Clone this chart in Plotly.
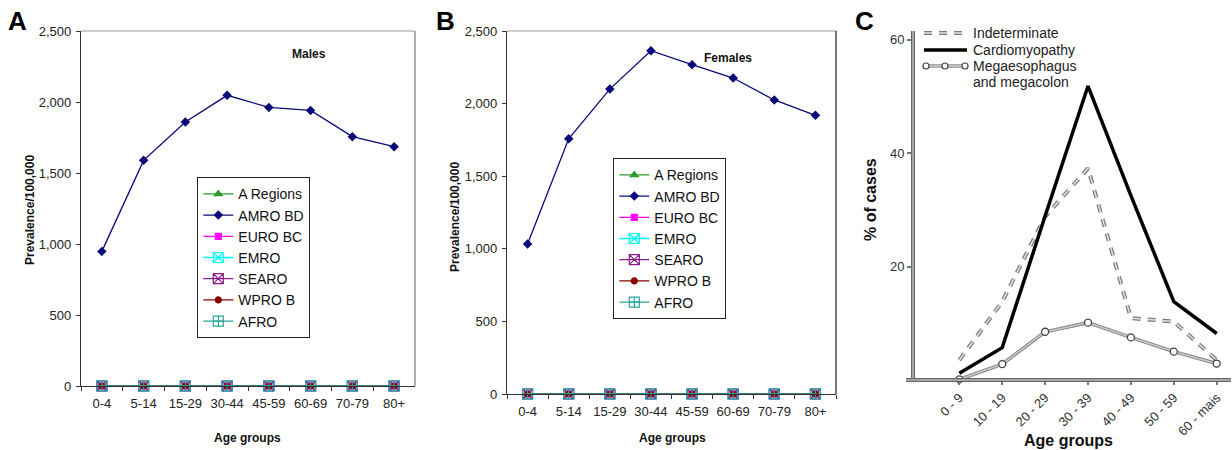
import plotly.graph_objects as go

# ---------------- data ----------------
age_ab = ["0-4", "5-14", "15-29", "30-44", "45-59", "60-69", "70-79", "80+"]
males_amro = [948, 1589, 1859, 2047, 1962, 1941, 1756, 1685]
females_amro = [1033, 1758, 2100, 2364, 2268, 2176, 2025, 1919]
zeros = [0, 0, 0, 0, 0, 0, 0, 0]
regions = ["A Regions", "AMRO BD", "EURO BC", "EMRO", "SEARO", "WPRO B", "AFRO"]

age_c = ["0 - 9", "10 - 19", "20 - 29", "30 - 39", "40 - 49", "50 - 59", "60 - mais"]
indeterminate = [3.5, 13.8, 28.8, 37.3, 10.9, 10.3, 3.5]
cardiomyopathy = [1.2, 5.7, 28.9, 51.8, 32.5, 13.8, 8.2]
megas = [0.1, 2.8, 8.5, 10.1, 7.5, 5.0, 2.9]
c_labels = ["Indeterminate", "Cardiomyopathy", "Megaesophagus", "and megacolon"]

W, H = 1232, 450

region_style = {
    "A Regions": dict(color="#2e9a2e", symbol="triangle-up", size=7),
    "AMRO BD": dict(color="#0a0a7a", symbol="diamond", size=6),
    "EURO BC": dict(color="#ff00ff", symbol="square", size=6),
    "EMRO": dict(color="#00ffff", symbol="square-x-open", size=10),
    "SEARO": dict(color="#8b1a8b", symbol="square-x-open", size=10),
    "WPRO B": dict(color="#8b0000", symbol="circle", size=6),
    "AFRO": dict(color="#2aa39a", symbol="square-cross-open", size=10),
}

fig = go.Figure()


def add_panel(amro_vals, xa, ya, legend):
    for r in regions:
        st = region_style[r]
        vals = amro_vals if r == "AMRO BD" else zeros
        fig.add_trace(go.Scatter(
            x=age_ab, y=vals, name=r, mode="lines+markers",
            line=dict(color=st["color"], width=1.3),
            marker=dict(symbol=st["symbol"], size=st["size"], color=st["color"],
                        line=dict(color=st["color"], width=1.2)),
            xaxis=xa, yaxis=ya, legend=legend, cliponaxis=False,
        ))


add_panel(males_amro, "x", "y", "legend")
add_panel(females_amro, "x2", "y2", "legend2")

# Panel C
fig.add_trace(go.Scatter(
    x=age_c, y=indeterminate, name="Indeterminate", mode="lines", showlegend=False,
    line=dict(color="#7a7a7a", width=4, dash="8px,7px"),
    xaxis="x3", yaxis="y3"))
fig.add_trace(go.Scatter(
    x=age_c, y=indeterminate, mode="lines", showlegend=False,
    line=dict(color="#e4e4e4", width=1.5, dash="8px,7px"),
    xaxis="x3", yaxis="y3", hoverinfo="skip"))
fig.add_trace(go.Scatter(
    x=age_c, y=cardiomyopathy, name="Cardiomyopathy", mode="lines", showlegend=False,
    line=dict(color="black", width=3.5),
    xaxis="x3", yaxis="y3"))
fig.add_trace(go.Scatter(
    x=age_c, y=megas, name="Megaesophagus and megacolon", mode="lines", showlegend=False,
    line=dict(color="#8c8c8c", width=3.5),
    xaxis="x3", yaxis="y3", cliponaxis=False))
fig.add_trace(go.Scatter(
    x=age_c, y=megas, mode="lines+markers", showlegend=False,
    line=dict(color="#d0d0d0", width=1.3),
    marker=dict(symbol="circle", size=7, color="white", line=dict(color="#444", width=1.3)),
    xaxis="x3", yaxis="y3", hoverinfo="skip", cliponaxis=False))


def px_x(p):
    return p / W


def px_y(p):
    return 1 - p / H


tickfont_ab = dict(family="Arial", size=13, color="#222")

ax_common_ab = dict(
    type="category", range=[-0.5, 7.5], showgrid=False, zeroline=False,
    showline=True, linecolor="#333", linewidth=1.2, ticks="outside", ticklen=4,
    tickcolor="#333", tickson="boundaries", tickfont=tickfont_ab, fixedrange=True,
    automargin=False, ticklabelstandoff=5, tickangle=0,
)
ay_common_ab = dict(
    range=[0, 2500], tickvals=[0, 500, 1000, 1500, 2000, 2500],
    ticktext=["0", "500", "1,000", "1,500", "2,000", "2,500"],
    showgrid=False, zeroline=False, showline=True, linecolor="#333", linewidth=1.2,
    ticks="outside", ticklen=4, tickcolor="#333", tickfont=tickfont_ab, fixedrange=True,
    automargin=False, ticklabelstandoff=2,
)

legend_common = dict(
    bgcolor="white", bordercolor="#222", borderwidth=1.3,
    font=dict(family="Arial", size=14, color="#111"),
    xanchor="left", yanchor="top", itemwidth=30, tracegroupgap=0,
)

fig.update_layout(
    width=W, height=H, margin=dict(l=0, r=0, t=0, b=0, autoexpand=False),
    paper_bgcolor="white", plot_bgcolor="white", showlegend=True,
    xaxis=dict(domain=[px_x(81), px_x(415)], anchor="y", **ax_common_ab),
    yaxis=dict(domain=[px_y(386), px_y(31)], anchor="x", **ay_common_ab),
    xaxis2=dict(domain=[px_x(507), px_x(836)], anchor="y2", **ax_common_ab),
    yaxis2=dict(domain=[px_y(394), px_y(31)], anchor="x2", **ay_common_ab),
    xaxis3=dict(domain=[px_x(913), px_x(1230)], anchor="y3", type="category",
                range=[-1.08, 6.31], showgrid=False, zeroline=False, showline=False,
                ticks="outside", ticklen=4, tickwidth=2, tickcolor="#777",
                tickangle=-45, tickfont=dict(family="Arial", size=13, color="#333"),
                fixedrange=True, automargin=False),
    yaxis3=dict(domain=[px_y(380), px_y(31)], anchor="x3", range=[0, 61.5],
                tickvals=[20, 40, 60], showgrid=False, zeroline=False, showline=False,
                ticks="outside", ticklen=5, tickwidth=2, tickcolor="#777",
                tickfont=dict(family="Arial", size=13, color="#333"), fixedrange=True,
                automargin=False),
    legend=dict(x=px_x(197), y=px_y(177), **legend_common),
    legend2=dict(x=px_x(613), y=px_y(158), **legend_common),
)

shapes = [
    # A top & right borders
    dict(type="line", xref="paper", yref="paper", x0=px_x(81), x1=px_x(415),
         y0=px_y(31), y1=px_y(31), line=dict(color="#9a9a9a", width=1.2)),
    dict(type="line", xref="paper", yref="paper", x0=px_x(415), x1=px_x(415),
         y0=px_y(31), y1=px_y(386), line=dict(color="#777", width=1.2)),
    # B top & right borders
    dict(type="line", xref="paper", yref="paper", x0=px_x(507), x1=px_x(836),
         y0=px_y(31), y1=px_y(31), line=dict(color="#9a9a9a", width=1.2)),
    dict(type="line", xref="paper", yref="paper", x0=px_x(836), x1=px_x(836),
         y0=px_y(31), y1=px_y(394), line=dict(color="#222", width=1.2)),
    # C axes (double-line look)
    dict(type="line", xref="paper", yref="paper", x0=px_x(913), x1=px_x(913),
         y0=px_y(380), y1=px_y(31), line=dict(color="#666", width=4)),
    dict(type="line", xref="paper", yref="paper", x0=px_x(913), x1=px_x(913),
         y0=px_y(380), y1=px_y(31), line=dict(color="#bdbdbd", width=1.5)),
    dict(type="line", xref="paper", yref="paper", x0=px_x(906), x1=px_x(1231),
         y0=px_y(380), y1=px_y(380), line=dict(color="#666", width=4)),
    dict(type="line", xref="paper", yref="paper", x0=px_x(906), x1=px_x(1231),
         y0=px_y(380), y1=px_y(380), line=dict(color="#bdbdbd", width=1.5)),
    # C legend keys
    dict(type="line", xref="paper", yref="paper", x0=px_x(924), x1=px_x(967),
         y0=px_y(33), y1=px_y(33), line=dict(color="#7a7a7a", width=4, dash="8px,7px")),
    dict(type="line", xref="paper", yref="paper", x0=px_x(924), x1=px_x(967),
         y0=px_y(33), y1=px_y(33), line=dict(color="#e4e4e4", width=1.5, dash="8px,7px")),
    dict(type="line", xref="paper", yref="paper", x0=px_x(924), x1=px_x(967),
         y0=px_y(50), y1=px_y(50), line=dict(color="black", width=3.5)),
    dict(type="line", xref="paper", yref="paper", x0=px_x(924), x1=px_x(967),
         y0=px_y(66), y1=px_y(66), line=dict(color="#8c8c8c", width=3.5)),
    dict(type="line", xref="paper", yref="paper", x0=px_x(924), x1=px_x(967),
         y0=px_y(66), y1=px_y(66), line=dict(color="#d0d0d0", width=1.3)),
]
for cx in (926, 945, 965):
    shapes.append(dict(type="circle", xref="paper", yref="paper",
                       x0=px_x(cx - 3), x1=px_x(cx + 3), y0=px_y(63), y1=px_y(69),
                       fillcolor="white", line=dict(color="#444", width=1.2)))
fig.update_layout(shapes=shapes)

ann = []


def txt(x, y, s, size=12, angle=0, color="#111", xanchor="center", family="Arial"):
    ann.append(dict(xref="paper", yref="paper", x=px_x(x), y=px_y(y), text=s,
                    showarrow=False, textangle=angle, xanchor=xanchor, yanchor="middle",
                    font=dict(family=family, size=size, color=color)))


# panel letters
txt(17, 21, "<b>A</b>", size=26, color="black")
txt(445, 21, "<b>B</b>", size=26, color="black")
txt(864, 21, "<b>C</b>", size=26, color="black")
# titles
txt(309, 54, "<b>Males</b>", size=12)
txt(728, 58, "<b>Females</b>", size=12)
# axis titles
txt(30, 210, "<b>Prevalence/100,000</b>", size=12, angle=-90)
txt(455, 217, "<b>Prevalence/100,000</b>", size=12, angle=-90)
txt(247, 438, "<b>Age groups</b>", size=12)
txt(672, 438, "<b>Age groups</b>", size=12)
txt(870, 200, "<b>% of cases</b>", size=16, angle=-90)
txt(1068, 440, "<b>Age groups</b>", size=16)
# C legend text
for lbl, yy in zip(c_labels, (33, 50, 66, 82)):
    txt(971, yy, lbl, size=14, color="#222", xanchor="left")
fig.update_layout(annotations=ann)

fig.write_html("out.html")
